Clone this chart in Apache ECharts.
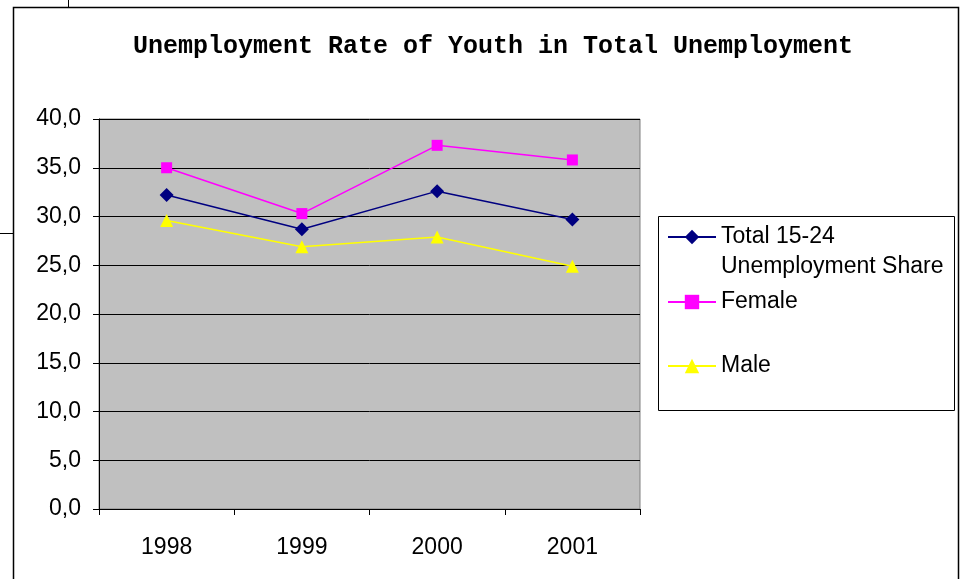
<!DOCTYPE html>
<html>
<head>
<meta charset="utf-8">
<script src="https://cdn.jsdelivr.net/npm/echarts@6/dist/echarts.min.js"></script>
<style>
  html, body { margin: 0; padding: 0; background: #fff; }
  #chart { width: 962px; height: 579px; }
</style>
</head>
<body>
<div id="chart"></div>
<script>
var years = ['1998', '1999', '2000', '2001'];
var totalShare = [32.2, 28.7, 32.6, 29.7];
var femaleShare = [35.0, 30.3, 37.3, 35.8];
var maleShare = [29.6, 26.9, 27.9, 24.9];

var totalName = 'Total 15-24 Unemployment Share';
var labelFont = 'Liberation Sans';

var chart = echarts.init(document.getElementById('chart'), null, { renderer: 'canvas' });

// one legend per entry so each row sits where the original has it
function legendRow(name, top) {
  return {
    data: [name],
    left: 667,
    top: top,
    padding: 0,
    itemWidth: 48,
    itemHeight: 18,
    selectedMode: false,
    textStyle: {
      fontFamily: labelFont,
      fontSize: 23,
      lineHeight: 30,
      color: '#000'
    },
    formatter: function (n) {
      if (n === totalName) {
        return '\nTotal 15-24\nUnemployment Share';
      }
      return n;
    }
  };
}

var option = {
  animation: false,
  backgroundColor: '#fff',
  title: {
    text: 'Unemployment Rate of Youth in Total Unemployment',
    left: 488,
    top: 29,
    textAlign: 'center',
    textStyle: {
      fontFamily: 'Liberation Mono',
      fontWeight: 'bold',
      fontSize: 25,
      color: '#000'
    }
  },
  legend: [
    legendRow(totalName, 192),
    legendRow('Female', 287),
    legendRow('Male', 351)
  ],
  grid: {
    left: 99,
    top: 119,
    width: 541,
    height: 390,
    show: true,
    backgroundColor: '#C0C0C0',
    borderColor: '#808080',
    borderWidth: 1
  },
  xAxis: {
    type: 'category',
    data: years,
    boundaryGap: true,
    axisLine: { lineStyle: { color: '#000', width: 1 } },
    axisTick: { show: true, length: 6, lineStyle: { color: '#000' } },
    axisLabel: {
      fontFamily: labelFont,
      fontSize: 23,
      color: '#000',
      margin: 27
    }
  },
  yAxis: {
    type: 'value',
    min: 0,
    max: 40,
    interval: 5,
    axisLine: { show: true, lineStyle: { color: '#000', width: 1 } },
    axisTick: { show: true, length: 6, lineStyle: { color: '#000' } },
    splitLine: { lineStyle: { color: '#000', width: 1 } },
    axisLabel: {
      fontFamily: labelFont,
      fontSize: 23,
      color: '#000',
      margin: 18,
      formatter: function (v) {
        return v.toFixed(1).replace('.', ',');
      }
    }
  },
  series: [
    {
      name: totalName,
      type: 'line',
      data: totalShare,
      symbol: 'diamond',
      symbolSize: 14,
      itemStyle: { color: '#000080' },
      lineStyle: { color: '#000080', width: 1.5 }
    },
    {
      name: 'Female',
      type: 'line',
      data: femaleShare,
      symbol: 'rect',
      symbolSize: 11,
      itemStyle: { color: '#FF00FF' },
      lineStyle: { color: '#FF00FF', width: 1.5 }
    },
    {
      name: 'Male',
      type: 'line',
      data: maleShare,
      symbol: 'triangle',
      symbolSize: 13,
      itemStyle: { color: '#FFFF00' },
      lineStyle: { color: '#FFFF00', width: 1.5 }
    }
  ],
  graphic: [
    // outer chart frame and the two stray stubs from the original sheet
    {
      type: 'rect',
      shape: { x: 13.5, y: 7.5, width: 945, height: 620 },
      style: { fill: null, stroke: '#000', lineWidth: 1.5 },
      z: -1
    },
    {
      type: 'line',
      shape: { x1: 68.5, y1: 0, x2: 68.5, y2: 7 },
      style: { stroke: '#000', lineWidth: 1 }
    },
    {
      type: 'line',
      shape: { x1: 0, y1: 233.5, x2: 13, y2: 233.5 },
      style: { stroke: '#000', lineWidth: 1 }
    },
    // legend box
    {
      type: 'rect',
      shape: { x: 658.5, y: 216.5, width: 296, height: 194 },
      style: { fill: null, stroke: '#000', lineWidth: 1 },
      z: -1
    }
  ]
};

chart.setOption(option);
</script>
</body>
</html>
